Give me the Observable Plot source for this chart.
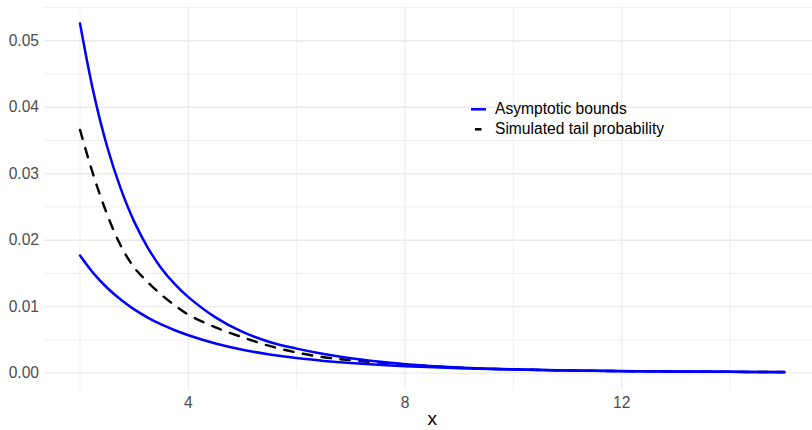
<!DOCTYPE html>
<html>
<head>
<meta charset="utf-8">
<script src="https://cdn.jsdelivr.net/npm/d3@7"></script>
<script src="https://cdn.jsdelivr.net/npm/@observablehq/plot@0.6"></script>
<style>
  body { margin: 0; background: white; }
  #wrap { position: relative; width: 812px; height: 430px; }
  #legend { position: absolute; left: 0; top: 0; pointer-events: none; }
</style>
</head>
<body>
<div id="wrap"></div>
<script>
// x grid of the curves
const xs = [2, 2.25, 2.5, 2.75, 3, 3.25, 3.5, 3.75, 4, 4.5, 5, 5.5, 6, 6.5, 7, 7.5, 8, 9, 10, 11, 12, 13, 14, 15];
// upper asymptotic bound
const upperBound = [0.0526, 0.0422, 0.0341, 0.0278, 0.0228, 0.0189, 0.0158, 0.0134, 0.01144, 0.0084, 0.0062, 0.0047, 0.0037, 0.00288, 0.00224, 0.00175, 0.00136, 0.00087, 0.00058, 0.00041, 0.0003, 0.00025, 0.00021, 0.00018];
// lower asymptotic bound
const lowerBound = [0.0177, 0.01501, 0.01285, 0.01108, 0.0096, 0.00837, 0.00733, 0.00646, 0.00571, 0.00447, 0.00353, 0.00282, 0.00227, 0.00185, 0.00152, 0.00126, 0.00106, 0.00076, 0.00056, 0.00042, 0.00032, 0.00025, 0.0002, 0.00016];
// simulated tail probability
const simulated = [0.0366, 0.0297, 0.0239, 0.0192, 0.0159, 0.0137, 0.0118, 0.0102, 0.0088, 0.0069, 0.0054, 0.0041, 0.0031, 0.0024, 0.00195, 0.00162, 0.00133, 0.00082, 0.00057, 0.00041, 0.00031, 0.00025, 0.0002, 0.00017];

const xMajor = [4, 8, 12];
const xMinor = [2, 6, 10, 14];
const yMajor = [0, 0.01, 0.02, 0.03, 0.04, 0.05];
const yMinor = [0.005, 0.015, 0.025, 0.035, 0.045, 0.055];
const legendLabels = ["Asymptotic bounds", "Simulated tail probability"];

const boundRows = [
  ...xs.map((x, i) => ({x, y: upperBound[i], series: "upper"})),
  ...xs.map((x, i) => ({x, y: lowerBound[i], series: "lower"}))
];
const simRows = xs.map((x, i) => ({x, y: simulated[i]}));

const font = "'Liberation Sans', Arial, Helvetica, sans-serif";
const grid = "#EBEBEB";

const chart = Plot.plot({
  width: 812,
  height: 430,
  marginLeft: 44.3,
  marginRight: -7,
  marginTop: 5.7,
  marginBottom: 40.5,
  style: {fontFamily: font, fontSize: "15.6px", color: "#4D4D4D", background: "white"},
  x: {domain: [1.35, 15.65]},
  y: {domain: [-0.002527, 0.0552]},
  marks: [
    Plot.ruleY(yMinor, {stroke: grid, strokeWidth: 0.8}),
    Plot.ruleY(yMajor, {stroke: grid, strokeWidth: 1.3}),
    Plot.ruleX(xMinor, {stroke: grid, strokeWidth: 0.8}),
    Plot.ruleX(xMajor, {stroke: grid, strokeWidth: 1.3}),
    Plot.axisY(yMajor, {tickSize: 0, tickPadding: 5.8, tickFormat: d3.format(".2f"), label: null}),
    Plot.axisX(xMajor, {tickSize: 0, tickPadding: 6.5, label: null}),
    Plot.line(simRows, {x: "x", y: "y", stroke: "black", strokeWidth: 2.4, strokeDasharray: "9.5,9.5", curve: "catmull-rom"}),
    Plot.line(boundRows, {x: "x", y: "y", z: "series", stroke: "blue", strokeWidth: 2.5, curve: "catmull-rom"}),
    Plot.text(["x"], {text: d => d, frameAnchor: "bottom", lineAnchor: "middle", dy: 29, fontSize: 19, fill: "black"})
  ]
});

const wrap = document.getElementById("wrap");
wrap.appendChild(chart);

// legend overlay
const ns = "http://www.w3.org/2000/svg";
const leg = document.createElementNS(ns, "svg");
leg.setAttribute("id", "legend");
leg.setAttribute("width", 812);
leg.setAttribute("height", 430);
const keys = [
  {x1: 471, x2: 486, y: 109.3, stroke: "blue", ty: 113.8},
  {x1: 475, x2: 481.5, y: 129.3, stroke: "black", ty: 133.8}
];
keys.forEach((k, i) => {
  const l = document.createElementNS(ns, "line");
  l.setAttribute("x1", k.x1); l.setAttribute("x2", k.x2);
  l.setAttribute("y1", k.y); l.setAttribute("y2", k.y);
  l.setAttribute("stroke", k.stroke); l.setAttribute("stroke-width", 2.5);
  leg.appendChild(l);
  const t = document.createElementNS(ns, "text");
  t.setAttribute("x", 495); t.setAttribute("y", k.ty);
  t.setAttribute("font-family", font); t.setAttribute("font-size", "15.6px");
  t.setAttribute("fill", "black");
  t.textContent = legendLabels[i];
  leg.appendChild(t);
});
wrap.appendChild(leg);
</script>
</body>
</html>
